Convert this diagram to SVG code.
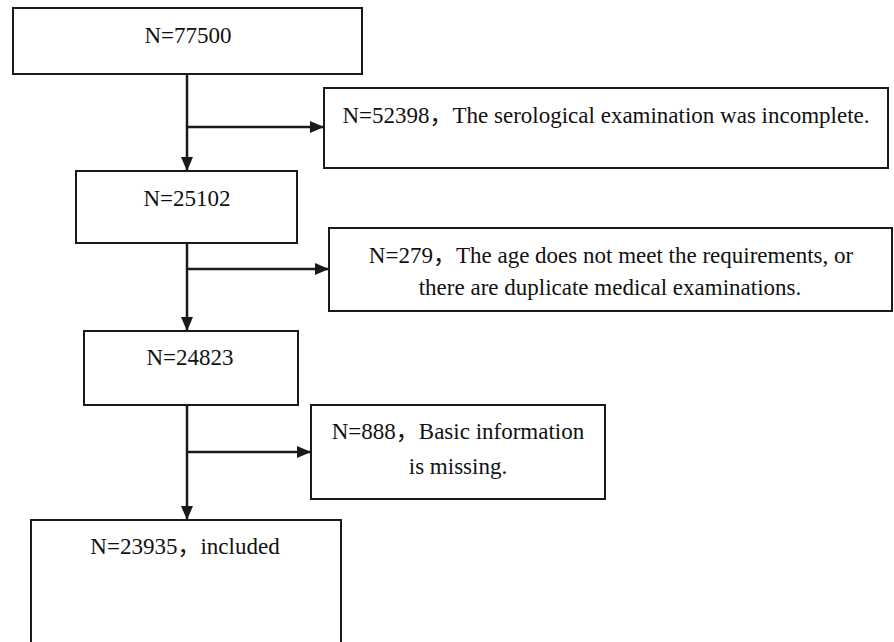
<svg xmlns="http://www.w3.org/2000/svg" width="894" height="642" viewBox="0 0 894 642">
<style>
.box{fill:#fff;stroke:#1a1a1a;stroke-width:2}
.t{font-family:"Liberation Serif","Noto Sans CJK SC",serif;font-size:23px;fill:#111;text-anchor:middle}
.c{stroke:#1a1a1a;stroke-width:2.5;fill:none}
</style>
<defs>
<marker id="ah" viewBox="0 0 14 12" refX="14" refY="6" markerWidth="14" markerHeight="12" markerUnits="userSpaceOnUse" orient="auto">
<path d="M0,0 L14,6 L0,12 Z" fill="#1a1a1a"/>
</marker>
</defs>
<rect width="894" height="642" fill="#fff"/>
<g id="connectors">
<line class="c" x1="187" y1="74" x2="187" y2="171" marker-end="url(#ah)"/>
<line class="c" x1="187" y1="127" x2="324" y2="127" marker-end="url(#ah)"/>
<line class="c" x1="187" y1="243" x2="187" y2="331" marker-end="url(#ah)"/>
<line class="c" x1="187" y1="269" x2="329" y2="269" marker-end="url(#ah)"/>
<line class="c" x1="187" y1="405" x2="187" y2="520" marker-end="url(#ah)"/>
<line class="c" x1="187" y1="452" x2="311" y2="452" marker-end="url(#ah)"/>
</g>
<g id="n77500">
<rect class="box" x="13" y="8" width="349" height="66"/>
<text class="t" x="188" y="43">N=77500</text>
</g>
<g id="excl52398">
<rect class="box" x="324" y="88" width="564" height="80"/>
<text class="t" x="606" y="123">N=52398，The serological examination was incomplete.</text>
</g>
<g id="n25102">
<rect class="box" x="76" y="171" width="221" height="72"/>
<text class="t" x="187" y="206">N=25102</text>
</g>
<g id="excl279">
<rect class="box" x="329" y="228" width="563" height="83"/>
<text class="t" x="611" y="263">N=279，The age does not meet the requirements, or</text>
<text class="t" x="610" y="295">there are duplicate medical examinations.</text>
</g>
<g id="n24823">
<rect class="box" x="84" y="331" width="214" height="74"/>
<text class="t" x="190" y="365">N=24823</text>
</g>
<g id="excl888">
<rect class="box" x="311" y="405" width="294" height="94"/>
<text class="t" x="458" y="439">N=888，Basic information</text>
<text class="t" x="458" y="474">is missing.</text>
</g>
<g id="n23935">
<rect class="box" x="31" y="520" width="310" height="130"/>
<text class="t" x="185" y="554">N=23935，included</text>
</g>
</svg>
